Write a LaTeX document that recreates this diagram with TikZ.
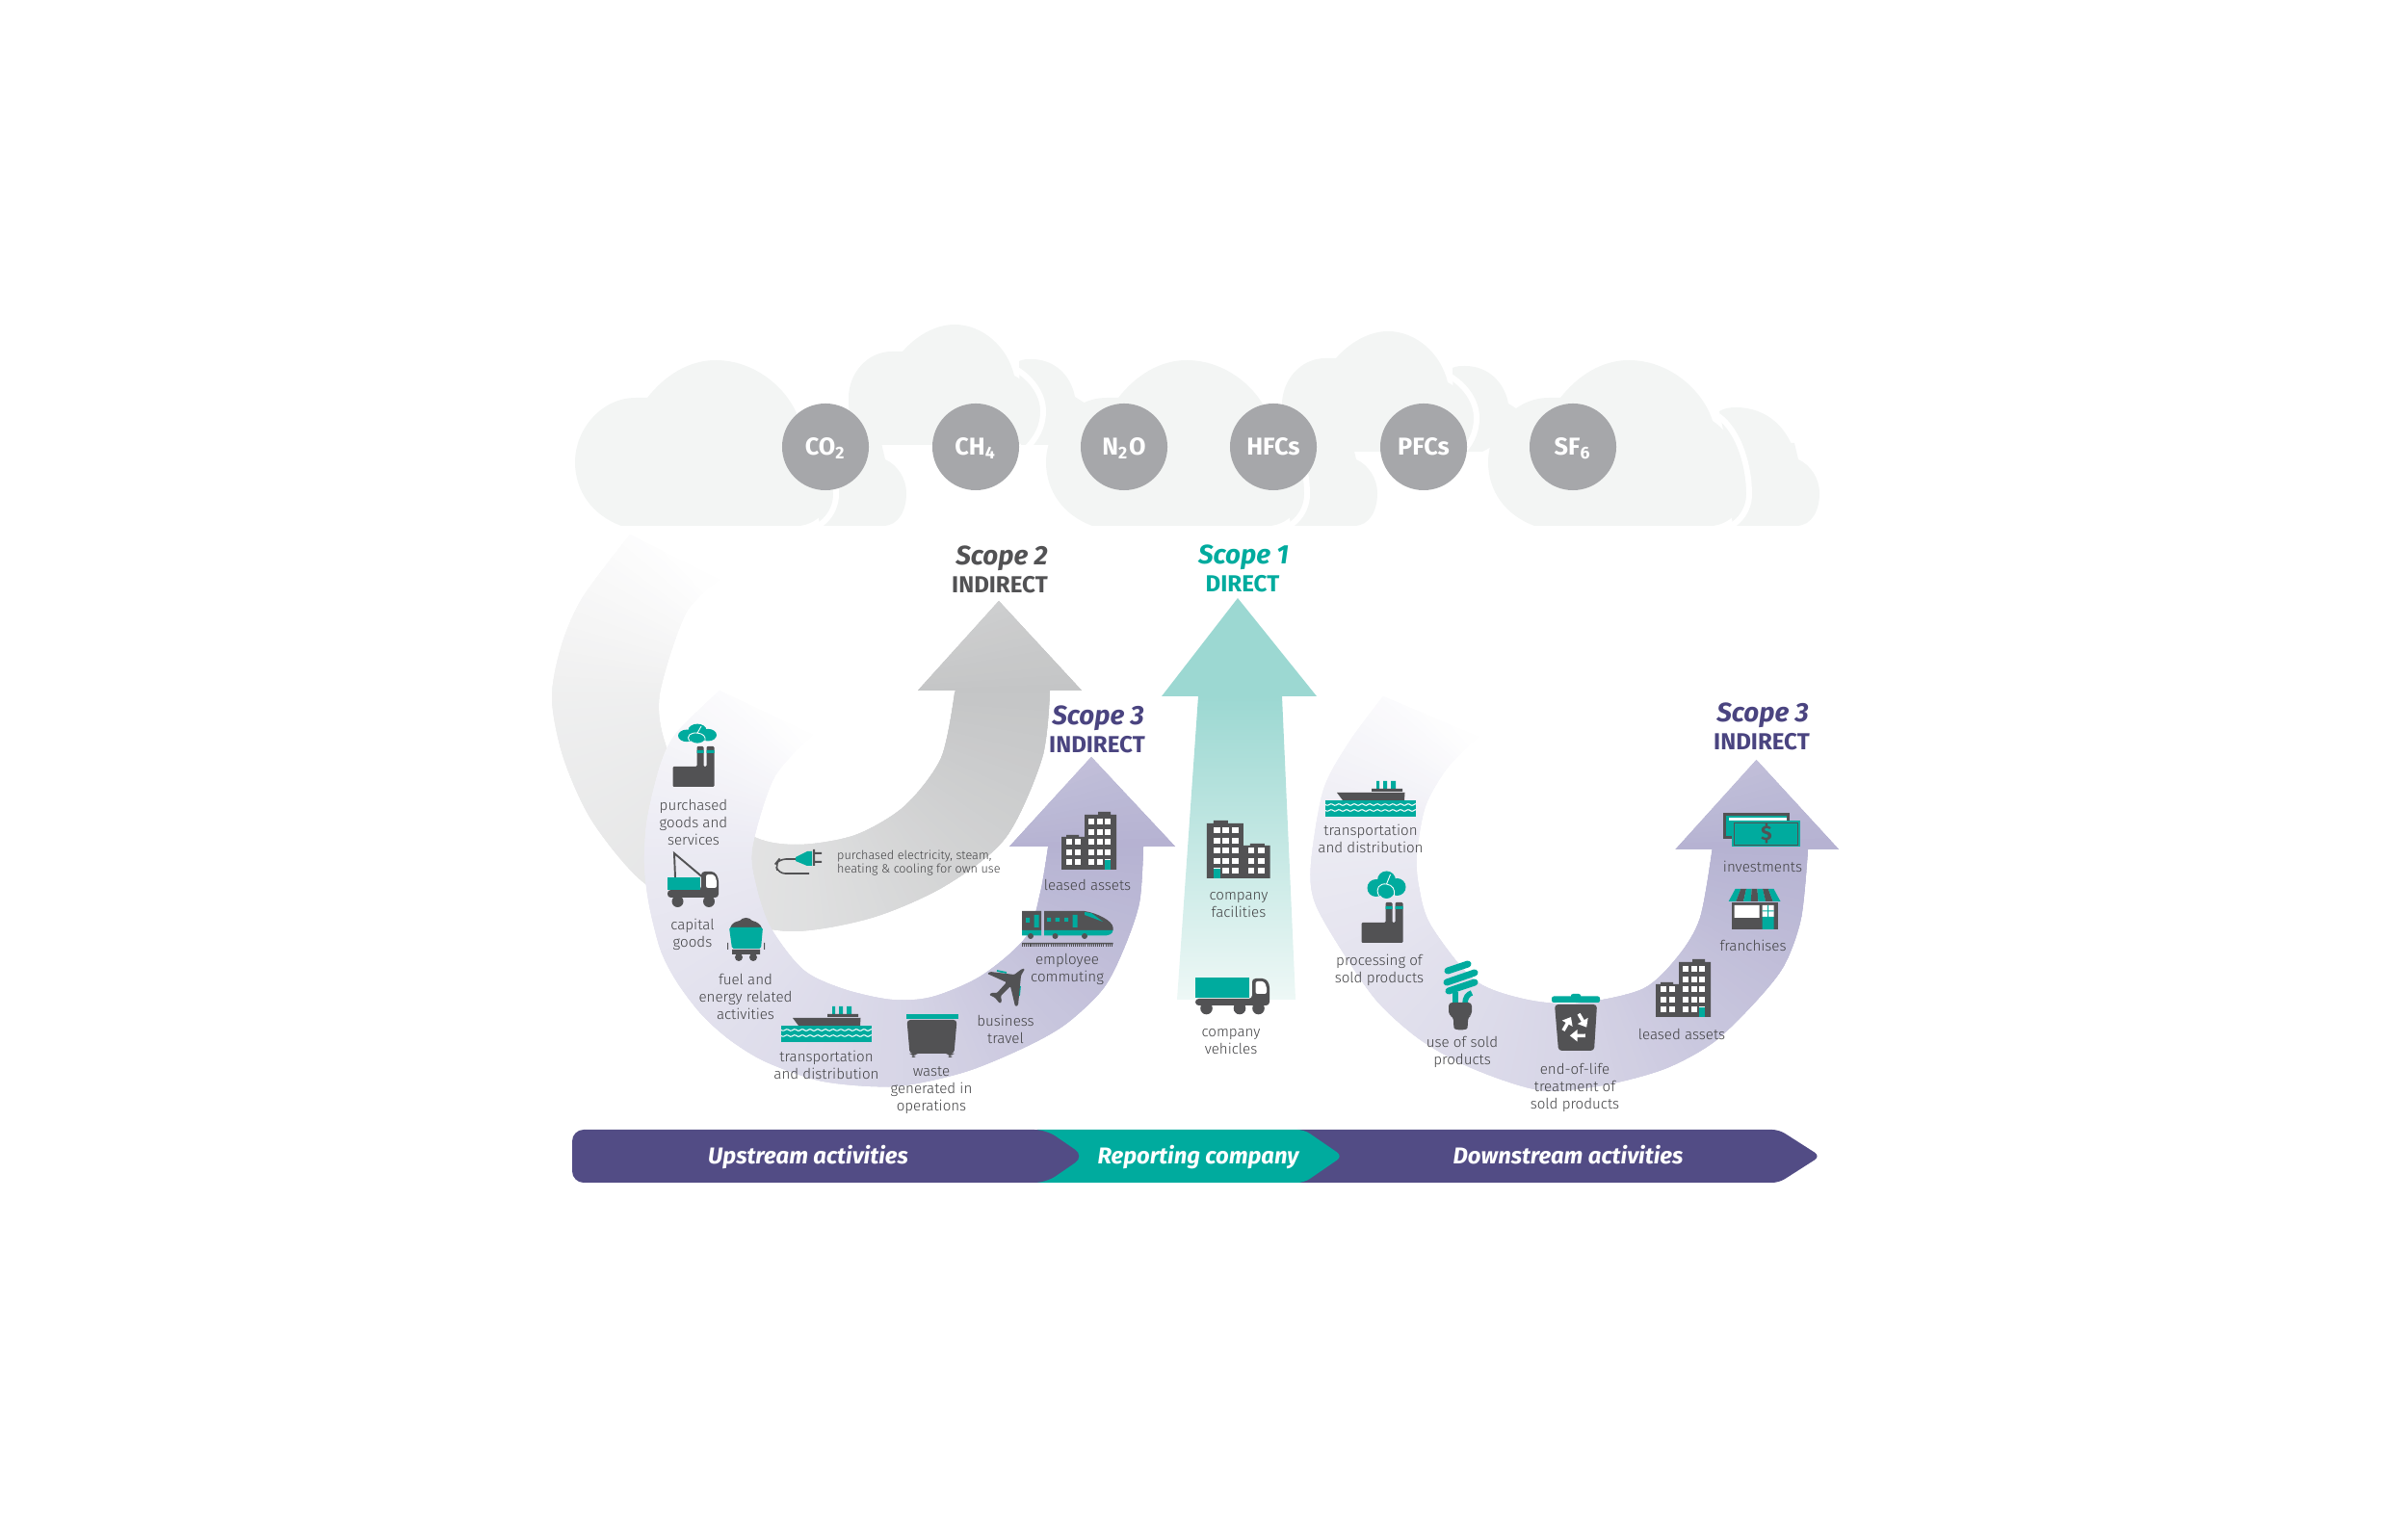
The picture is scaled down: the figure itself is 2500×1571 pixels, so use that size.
\documentclass[tikz,border=0pt]{standalone}
\usepackage{fontspec}
\setmainfont{Fira Sans}
\newfontfamily\lightfont{Fira Sans Light}
\usetikzlibrary{arrows.meta}
\definecolor{cloudgrey}{HTML}{F3F5F4}
\definecolor{gasgrey}{HTML}{A6A7AA}
\definecolor{scopeteal}{HTML}{00AB9E}
\definecolor{scopeviolet}{HTML}{524C85}
\definecolor{scopeink}{HTML}{4A4480}
\definecolor{icongrey}{HTML}{525254}
\definecolor{labelgrey}{HTML}{414143}
\definecolor{arrowgrey}{HTML}{C3C4C5}
\definecolor{arrowviolet}{HTML}{B4B1D1}
\definecolor{tealtop}{HTML}{9CD8D2}
\definecolor{tealfoot}{HTML}{EEF8F6}
% colour running round a ring: #1,#2 centre, #3 colour
\newcommand{\ringfill}[3]{
\foreach \a in {120,122,...,400} {
\pgfmathsetmacro\mix{\a<130 ? 1 : (\a<180 ? 1+(\a-130)*.52 : (\a<270 ? 27+(\a-180)*.29 : (\a<360 ? 53+(\a-270)*.5 : 98-(\a-360)*.67)))}
\fill[#3!\mix!white] (#1,#2) -- ++(-\a:900) -- ++(-\a-90:100) -- cycle;
}}
\tikzset{
pics/cloudfront/.style={code={
\fill[cloudgrey] (851,546) -- (917,546) .. controls (933,546) and (941,530) .. (941,512) .. controls (941,497) and (932,483) .. (919,477) -- (915,460) -- (840,460) -- cycle;
\fill[cloudgrey] (645,546) .. controls (615,535) and (597,510) .. (597,480) .. controls (597,445) and (625,413) .. (660,413) -- (672,413) .. controls (690,390) and (715,374) .. (743,374) .. controls (785,374) and (820,405) .. (830,437) .. controls (850,450) and (863,480) .. (863,513) .. controls (863,530) and (845,546) .. (828,546) -- cycle;
\draw[white,line width=1.7pt] (836,432) .. controls (858,448) and (868,485) .. (868,513) .. controls (868,535) and (850,552) .. (828,552);
}},
pics/cloudback/.style={code={
\fill[cloudgrey] (1058,375) .. controls (1062,373) and (1066,373) .. (1071,373) .. controls (1095,373) and (1112,390) .. (1116,412) -- (1127,419) -- (1150,430) -- (1089,462) -- (1060,462) -- cycle;
\fill[cloudgrey] (890,462) .. controls (883,445) and (881,430) .. (881,413) .. controls (881,388) and (900,365) .. (926,365) -- (937,365) .. controls (950,350) and (970,337) .. (991,337) .. controls (1020,337) and (1046,360) .. (1053,390) .. controls (1068,398) and (1077,412) .. (1077,427) .. controls (1077,440) and (1070,452) .. (1058,462) -- cycle;
\draw[white,line width=1.7pt] (1056,384) .. controls (1072,394) and (1083,410) .. (1083,427) .. controls (1083,443) and (1076,456) .. (1064,467);
}},
pics/smoke/.style={code={
\fill[scopeteal] (9,17) circle (9) (20,9) circle (9.5) (31,16) circle (9) (20,20) circle (8);
\draw[white,line width=.25pt] (12,25) .. controls (8,17) and (13,12) .. (20,13) .. controls (26,14) and (29,18) .. (28,25) (20,13) -- (24,3);
}},
pics/factory/.style={code={
\fill[icongrey,rounded corners=.3pt] (0,42) -- (0,21) -- (25,21) -- (25,0) -- (32,0) -- (32,21) -- (35,21) -- (35,0) -- (43,0) -- (43,42) -- cycle;
\fill[scopeteal] (25,4) rectangle (32,7) (35,4) rectangle (43,7);
}},
pics/blocks/.style={code={
\fill[icongrey] (24,3) rectangle (57,60) (38,0) rectangle (51,3) (0,26) rectangle (24,60) (5,24) rectangle (18,26);
\foreach \wy in {10,21,31,42,52} \foreach \wx in {31,40,48} \fill[white] (\wx-3,\wy-2.8) rectangle (\wx+3,\wy+2.8);
\foreach \wy in {31,42,52} \foreach \wx in {8,17} \fill[white] (\wx-3,\wy-2.8) rectangle (\wx+3,\wy+2.8);
\fill[scopeteal] (45,50) rectangle (51,60);
}},
pics/plug/.style={code={
\draw[icongrey,line width=.45pt,rounded corners=2pt] (22,10) -- (4,10) -- (0,15) -- (3,25) -- (35,25);
\fill[icongrey] (39,0) rectangle (41,17) (40,3) rectangle (48,5) (40,12) rectangle (48,14);
\fill[scopeteal] (21,8) -- (33,2) -- (38,2) -- (38,17) -- (33,17) -- (21,12) -- cycle;
}},
pics/cranetruck/.style={code={
\draw[icongrey,line width=.55pt] (8,25) -- (7,0) -- (39,27);
\fill[icongrey,rounded corners=1pt] (35,19) -- (49,19) -- (53,26) -- (53,46) -- (0,46) -- (0,38) -- (35,38) -- cycle;
\fill[white,rounded corners=.6pt] (40,22) -- (48,22) -- (51,27) -- (51,36) -- (40,36) -- cycle;
\fill[scopeteal] (0,25) rectangle (34,38);
\fill[icongrey] (10.5,50) circle (6) (43,50) circle (6);
}},
pics/coalwagon/.style={code={
\fill[icongrey] (3,12) .. controls (5,5) and (10,5) .. (13,4) .. controls (16,0) and (23,0) .. (26,4) .. controls (31,5) and (35,8) .. (36,12) -- cycle;
\fill[scopeteal,rounded corners=.5pt] (2,11) -- (37,11) -- (35,33) -- (5,33) -- cycle;
\fill[icongrey] (5,34) rectangle (34,39) (0,27) rectangle (1,34) (38,27) rectangle (39,34);
\fill[icongrey] (12,42) circle (4) (27,42) circle (4);
}},
pics/ship/.style={code={
\fill[scopeteal] (53,0) rectangle (56,8) (60,0) rectangle (64,8) (68,0) rectangle (73,8);
\fill[icongrey] (48,8) rectangle (80,11) (12,12) -- (82.5,12) -- (82,20) -- (18,20) -- cycle;
\fill[scopeteal] (0,20) rectangle (94,37);
\foreach \wavey in {24.5,30.5} \draw[white,line width=.3pt] plot[domain=0:94,samples=70] (\x,{\wavey+.8*sin(\x*45)});
}},
pics/wastebin/.style={code={
\fill[scopeteal] (0,0) rectangle (54,5);
\fill[icongrey,rounded corners=1pt] (1,6) -- (53,6) -- (50,41) -- (47,41) -- (47,45) -- (45,45) -- (45,41) -- (9,41) -- (9,45) -- (7,45) -- (7,41) -- (4,41) -- cycle;
}},
pics/plane/.style={code={
\draw[scopeteal,line width=.5pt] (10,2) -- (20,4) (34,18) -- (33,28);
\fill[icongrey,rounded corners=.3pt] (39,0) -- (35,7) -- (32,38) -- (29,39) -- (24,18) -- (14,28) -- (15,34) -- (13,36) -- (8,30) -- (2,27) -- (4,25) -- (10,25) -- (20,14) -- (0,5) -- (3,3) -- (28,6) -- (36,0) -- cycle;
}},
pics/bullettrain/.style={code={
\fill[icongrey] (0,0) rectangle (20,20) (23,0) -- (65,0) .. controls (78,2) and (94,10) .. (94.5,17) -- (94.5,20) -- (23,20) -- cycle;
\fill[scopeteal] (0,20) rectangle (20,25.5) (23,20) -- (94.5,20) .. controls (94,24) and (90,25.5) .. (85,25.5) -- (23,25.5) -- cycle;
\fill[scopeteal] (4,7) rectangle (8,12) (12.5,4) rectangle (17.6,17) (26,7) rectangle (30,11) (34.5,7) rectangle (39,11) (44,7) rectangle (48,11) (52.6,4) rectangle (57.7,17) (65,1) -- (72,2) -- (84,11) -- (65,4) -- cycle;
\fill[icongrey] (9,26) circle (3) (34.5,26) circle (3) (65,26) circle (3) (0,33) rectangle (94.5,34.5);
\draw[icongrey,line width=.6pt,dash pattern=on .3pt off .3pt] (0,35.5) -- (94.5,35.5);
}},
pics/lorry/.style={code={
\fill[scopeteal] (0,0) rectangle (56,21);
\fill[icongrey,rounded corners=1pt] (59,1) -- (73,1) -- (77,7) -- (77,29) -- (0,29) -- (0,22) -- (59,22) -- cycle;
\fill[white,rounded corners=.6pt] (62.5,4) -- (71,4) -- (74,9) -- (74,17) -- (62.5,17) -- cycle;
\fill[icongrey] (11.5,32) circle (6.3) (46,32) circle (6.3) (65.5,32) circle (6.3);
}},
pics/bulb/.style={code={
\draw[scopeteal,line width=2pt,line cap=round] (4,12) -- (25,5) (3,24) -- (32,14) (5,33) -- (32,24);
\draw[scopeteal,line width=1.6pt] (12,34) -- (12,46) (22,46) .. controls (22,40) and (25,36) .. (29,35);
\fill[icongrey,rounded corners=1pt] (5,45) -- (29,45) -- (29,58) -- (25,60) -- (25,68) .. controls (24,74) and (11,74) .. (10,68) -- (10,60) -- (5,58) -- cycle;
}},
pics/recyclebin/.style={code={
\fill[scopeteal,rounded corners=.6pt] (0,2.5) rectangle (50,9) (20,0) rectangle (30,3);
\fill[icongrey,rounded corners=1pt] (3,11) -- (47,11) -- (44,59) -- (7,59) -- cycle;
\foreach \wr in {0,120,240} \draw[white,line width=1pt,-{Triangle[length=2.2pt,width=3.4pt]},rotate around={\wr:(25,34)}] (12,38) -- (20,24);
}},
pics/store/.style={code={
\fill[icongrey] (3,14) rectangle (51,42);
\fill[white] (6,17) rectangle (32,30) (35,17) rectangle (47,29);
\draw[white,line width=.25pt] (19,17) -- (19,30);
\fill[scopeteal] (35,29) rectangle (47,42) (40.5,17) rectangle (41.5,29) (35,22.5) rectangle (47,23.5);
\foreach \wk [evaluate=\wk as \wc using {int(mod(\wk,2))}] in {0,...,6} {
\ifnum\wc=0 \colorlet{stripe}{scopeteal}\else \colorlet{stripe}{icongrey}\fi
\fill[stripe] (7+\wk*5.7,0) -- (7+\wk*5.7+5.7,0) -- (\wk*7.7+7.7,13) -- (\wk*7.7,13) -- cycle;
}
}},
pics/banknotes/.style={code={
\fill[icongrey] (0,0) rectangle (69,27);
\fill[scopeteal] (3,3) rectangle (66,24);
\fill[white] (6,5) rectangle (66,8);
\fill[scopeteal] (9,8) rectangle (79.5,35);
\draw[icongrey,line width=.25pt] (11,10) rectangle (77.5,33);
}}
}
\begin{document}
\begin{tikzpicture}[x=0.01cm,y=-0.01cm,
gas/.style={circle,fill=gasgrey,text=white,minimum size=90*0.2845pt,inner sep=0pt,text depth=0pt,font=\bfseries\fontsize{7.2}{8}\selectfont},
scopename/.style={inner sep=0pt,yshift=-.7pt,font=\bfseries\itshape\fontsize{7.9}{9}\selectfont},
scopekind/.style={inner sep=0pt,font=\bfseries\fontsize{6.85}{8}\selectfont},
item/.style={inner sep=0pt,yshift=-.3pt,align=center,text=labelgrey,font=\lightfont\fontsize{4.3}{5.12}\selectfont},
band/.style={inner sep=0pt,anchor=base,text=white,font=\bfseries\itshape\fontsize{6.77}{8}\selectfont}]
\useasboundingbox (0,0) rectangle (2500,1571);
% clouds
\foreach \dx/\dy in {0/0,450/7} \pic at (\dx,\dy) {cloudback};
\fill[cloudgrey] (1785,427) .. controls (1790,424) and (1796,423) .. (1802,423) .. controls (1835,423) and (1858,445) .. (1865,477) -- (1800,500) -- cycle;
\foreach \dx in {0,489,948} \pic at (\dx,0) {cloudfront};
% gases
\node[gas] (co2) at (857,464) {CO\textsubscript{2}};
\node[gas] (ch4) at (1013,464) {CH\textsubscript{4}};
\node[gas] (n2o) at (1167,464) {N\textsubscript{2}O};
\node[gas] (hfcs) at (1322,464) {HFCs};
\node[gas] (pfcs) at (1478,464) {PFCs};
\node[gas] (sf6) at (1633,464) {SF\textsubscript{6}};
% scope 2 arrow
\begin{scope}
\clip plot[smooth] coordinates {(654,555) (605,620) (583,670) (573,725) (585,787) (615,853) (669,917) (740,950) (821,967) (905,953) (981,920) (1044,870) (1082,787) (1090,717)} -- (1123,717) -- (1037,624) -- (953,717) -- (992,717) -- plot[smooth] coordinates {(991,720) (977,787) (939,837) (888,867) (829,877) (781,868) (716,820) (690,770) (685,720) (712,637) (747,602)} -- cycle;
\ringfill{830}{720}{arrowgrey}
\end{scope}
% scope 1 arrow
\fill[tealtop] (1285,621) -- (1367,723) -- (1206,723) -- cycle;
\shade[top color=tealtop,bottom color=tealfoot] (1244,723) -- (1331,723) -- (1345,1038) -- (1222,1038) -- cycle;
% scope 3 upstream arrow
\begin{scope}
\clip plot[smooth] coordinates {(747,717) (703,760) (686,793) (672,850) (669,897) (674,940) (686,987) (703,1020) (728,1053) (758,1080) (796,1103) (855,1123) (930,1128) (1002,1113) (1065,1087) (1107,1063) (1145,1027) (1166,987) (1183,937) (1187,879)} -- (1220,879) -- (1133,786) -- (1048,879) -- (1088,879) -- plot[smooth] coordinates {(1088,880) (1080,927) (1065,973) (1019,1013) (968,1035) (926,1038) (876,1027) (834,1007) (800,963) (785,920) (781,880) (804,807) (844,763)} -- cycle;
\ringfill{930}{880}{arrowviolet}
\end{scope}
% scope 3 downstream arrow
\begin{scope}
\clip plot[smooth] coordinates {(1436,723) (1401,770) (1374,820) (1361,897) (1365,937) (1393,987) (1430,1040) (1475,1080) (1530,1110) (1599,1132) (1664,1127) (1728,1110) (1778,1083) (1820,1043) (1852,1003) (1870,953) (1877,882)} -- (1909,882) -- (1823.5,789) -- (1739.5,882) -- (1777.6,882) -- plot[smooth] coordinates {(1777.6,882) (1765,953) (1742,993) (1705,1027) (1636,1042) (1581,1037) (1530,1017) (1485,960) (1473,920) (1471,887) (1480,837) (1503,797) (1535,765)} -- cycle;
\ringfill{1619}{880}{arrowviolet}
\end{scope}
% scope titles
\node[scopename,text=icongrey] (s2) at (1040,577) {Scope 2};
\node[scopekind,text=icongrey] (s2k) at (1038,607) {INDIRECT};
\node[scopename,text=scopeteal] (s1) at (1291,576) {Scope 1};
\node[scopekind,text=scopeteal] (s1k) at (1290,606) {DIRECT};
\node[scopename,text=scopeink] (s3u) at (1140,743) {Scope 3};
\node[scopekind,text=scopeink] (s3uk) at (1139,773) {INDIRECT};
\node[scopename,text=scopeink] (s3d) at (1830,740) {Scope 3};
\node[scopekind,text=scopeink] (s3dk) at (1829,770) {INDIRECT};
% upstream icons
\pic[yscale=.7] at (704,752) {smoke};
\pic at (698.5,775) {factory};
\pic at (693,886) {cranetruck};
\pic at (755,952) {coalwagon};
\pic at (811,1045) {ship};
\pic at (940.5,1053) {wastebin};
\pic at (1025,1006) {plane};
\pic at (1061,946) {bullettrain};
\pic at (1102,843) {blocks};
\pic at (805,882) {plug};
% company icons
\pic[xscale=-1.15] at (1318.5,852) {blocks};
\pic at (1241,1015) {lorry};
% downstream icons
\pic at (1376,811) {ship};
\pic at (1419.5,905) {smoke};
\pic at (1413.5,937) {factory};
\pic at (1499,996) {bulb};
\pic at (1611,1032) {recyclebin};
\pic at (1719,996) {blocks};
\pic at (1794.6,923) {store};
\pic at (1789,844) {banknotes};
\node[inner sep=0pt,text=icongrey,font=\bfseries\fontsize{6}{7}\selectfont] (dollar) at (1834,865) {\$};
% labels
\node[item] (goods) at (720,853) {purchased\\goods and\\services};
\node[item] (capital) at (719,969) {capital\\goods};
\node[item] (fuel) at (774,1034) {fuel and\\energy related\\activities};
\node[item] (upship) at (858,1105) {transportation\\and distribution};
\node[item] (waste) at (967,1131) {waste\\generated in\\operations};
\node[item] (travel) at (1044,1068) {business\\travel};
\node[item] (commute) at (1108,1005) {employee\\commuting};
\node[item] (upleased) at (1129,918) {leased assets};
\node[item,anchor=west,align=left,font=\lightfont\fontsize{3.6}{4}\selectfont] (power) at (868.5,895) {purchased electricity, steam,\\heating \& cooling for own use};
\node[item] (facilities) at (1286,938) {company\\facilities};
\node[item] (vehicles) at (1278,1080) {company\\vehicles};
\node[item] (downship) at (1423,870) {transportation\\and distribution};
\node[item] (processing) at (1432,1006) {processing of\\sold products};
\node[item] (use) at (1518,1091) {use of sold\\products};
\node[item] (eol) at (1635,1128) {end-of-life\\treatment of\\sold products};
\node[item] (downleased) at (1746,1073) {leased assets};
\node[item] (franchises) at (1820,981) {franchises};
\node[item] (investments) at (1830,899) {investments};
% activity band
\fill[scopeviolet,rounded corners=2pt] (1340,1173) -- (1847,1173) -- (1890,1200.5) -- (1847,1228) -- (1340,1228) -- cycle;
\fill[scopeteal,rounded corners=2pt] (1070,1173) -- (1354,1173) -- (1394,1200.5) -- (1354,1228) -- (1070,1228) -- cycle;
\fill[scopeviolet,rounded corners=3.4pt] (594,1173) -- (1086,1173) -- (1126,1200.5) -- (1086,1228) -- (594,1228) -- cycle;
\node[band] (upstream) at (839,1208.5) {Upstream activities};
\node[band] (reporting) at (1244,1208.5) {Reporting company};
\node[band] (downstream) at (1628,1208.5) {Downstream activities};
\end{tikzpicture}
\end{document}
